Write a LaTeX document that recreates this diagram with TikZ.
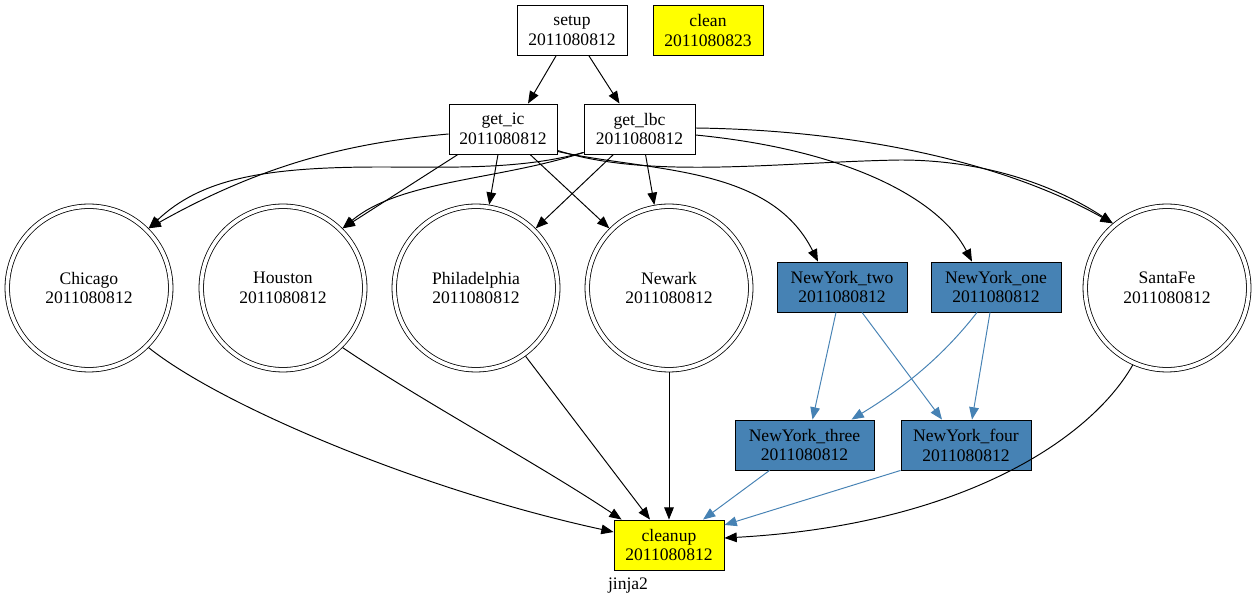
\documentclass[tikz,border=0pt]{standalone}
\usepackage{fontspec}
\setmainfont{Liberation Serif}
\usetikzlibrary{positioning,arrows.meta,calc}
\definecolor{runYellow}{HTML}{FFFF00}
\definecolor{runBlue}{HTML}{4682B4}
\tikzset{
  task/.style={draw=black,fill=white,line width=0.5pt,minimum width=2.2cm,
    minimum height=1cm,inner sep=1pt,align=center,font=\fontsize{10}{11.3}\selectfont},
  yellowtask/.style={task,fill=runYellow},
  bluetask/.style={task,fill=runBlue,minimum width=2.6cm},
  city/.style={circle,draw=black,fill=white,line width=0.45pt,double,double distance=2.1pt,
    minimum size=3.27cm,inner sep=0pt,outer sep=1.5pt,align=center,
    font=\fontsize{10}{11.3}\selectfont},
  dep/.style={-{Triangle[length=7pt,width=5.5pt]},line width=0.55pt,draw=black},
  bluedep/.style={-{Triangle[length=7pt,width=5.5pt]},line width=0.55pt,draw=runBlue},
  caption/.style={font=\fontsize{10}{11.3}\selectfont}
}
\begin{document}
\begin{tikzpicture}[x=0.02cm,y=-0.02cm]
  \useasboundingbox[fill=white] (0,0) rectangle (1257,607);

  % top row
  \node[task] (setup) at (572,30.5) {setup\\2011080812};
  \node[yellowtask] (clean) at (708,30.5) {clean\\2011080823};
  \node[task, minimum width=2.16cm] (getic) at (503,129) {get\_ic\\2011080812};
  \node[task, minimum width=2.22cm] (getlbc) at (639.5,129) {get\_lbc\\2011080812};

  % cities
  \node[city] (chicago) at (89,288) {Chicago\\2011080812};
  \node[city] (houston) at (283,288) {Houston\\2011080812};
  \node[city] (philly) at (476,288) {Philadelphia\\2011080812};
  \node[city] (newark) at (669,288) {Newark\\2011080812};
  \node[city] (santafe) at (1167,288) {SantaFe\\2011080812};

  % new york jobs
  \node[bluetask] (nytwo) at (842,287) {NewYork\_two\\2011080812};
  \node[bluetask] (nyone) at (996,287) {NewYork\_one\\2011080812};
  \node[bluetask, minimum width=2.78cm] (nythree) at (804.5,445) {NewYork\_three\\2011080812};
  \node[bluetask] (nyfour) at (966,445) {NewYork\_four\\2011080812};

  \node[yellowtask] (cleanup) at (669,545) {cleanup\\2011080812};
  \node[caption] (jinja) at (628,586) {jinja2};

  \draw[dep] ($(setup.south)+(-16,0)$) -- ($(getic.north)+(25,0)$);
  \draw[dep] ($(setup.south)+(17,0)$) -- ($(getlbc.north)+(-20,0)$);

  \draw[dep] ($(getic.west)+(0,5)$) .. controls (360,142) and (270,160) .. (chicago.45);
  \draw[dep] ($(getic.south)+(-45,0)$) -- (houston.45);
  \draw[dep] ($(getic.south)+(-5,0)$) -- (philly.81);
  \draw[dep] ($(getic.south)+(27,0)$) -- (newark.135);
  \draw[dep] ($(getic.south east)+(0,-3)$) .. controls (650,172) and (770,165) .. ($(nytwo.north)+(-24,0)$);
  \draw[dep] ($(getic.south east)+(0,-4)$) .. controls (650,180) and (780,162) .. (900,160)
    .. controls (1000,160) and (1070,195) .. (santafe.130);

  \draw[dep] ($(getlbc.south west)+(0,-2)$) .. controls (520,170) and (450,167) .. (380,167)
    .. controls (260,167) and (200,180) .. (chicago.45);
  \draw[dep] ($(getlbc.south west)+(0,-2)$) .. controls (500,180) and (400,180) .. (houston.45);
  \draw[dep] ($(getlbc.south)+(-26,0)$) -- (philly.45);
  \draw[dep] ($(getlbc.south)+(6,0)$) -- (newark.100);
  \draw[dep] ($(getlbc.east)+(0,-1)$) .. controls (850,130) and (1000,160) .. (santafe.130);
  \draw[dep] ($(getlbc.east)+(0,6)$) .. controls (850,150) and (940,200) .. ($(nyone.north)+(-24,0)$);

  \draw[bluedep] ($(nytwo.south)+(-6,0)$) -- ($(nythree.north)+(8,0)$);
  \draw[bluedep] ($(nytwo.south)+(20,0)$) -- ($(nyfour.north)+(-24,0)$);
  \draw[bluedep] ($(nyone.south)+(-19,0)$) .. controls (940,360) and (900,390) .. ($(nythree.north)+(47,0)$);
  \draw[bluedep] ($(nyone.south)+(-6,0)$) -- ($(nyfour.north)+(6,0)$);
  \draw[bluedep] ($(nythree.south)+(-35,0)$) -- ($(cleanup.north)+(34,0)$);
  \draw[bluedep] (nyfour.south west) -- ($(cleanup.east)+(0,-20)$);

  \draw[dep] (chicago.-45) .. controls (220,405) and (420,490) .. ($(cleanup.west)+(0,-13)$);
  \draw[dep] (houston.-45) .. controls (420,400) and (540,465) .. ($(cleanup.north west)+(8,0)$);
  \draw[dep] (philly.-54) -- ($(cleanup.north)+(-19,0)$);
  \draw[dep] (newark.south) -- (cleanup.north);
  \draw[dep] (santafe.-114) .. controls (1090,440) and (960,525) .. ($(cleanup.east)+(0,-7)$);
\end{tikzpicture}
\end{document}
